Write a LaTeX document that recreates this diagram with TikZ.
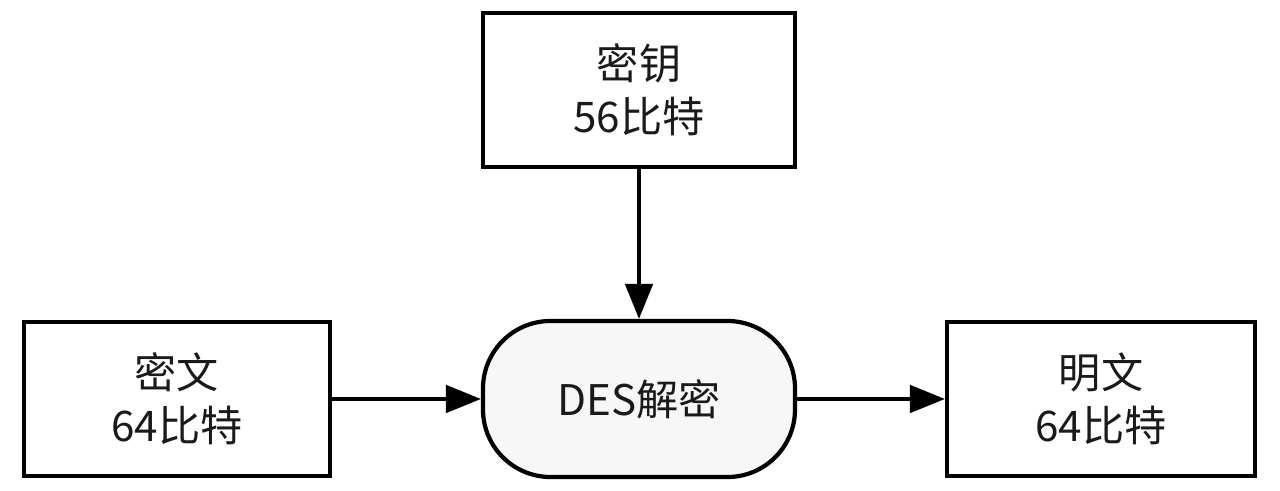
\documentclass[tikz,border=0pt]{standalone}
\usepackage{fontspec}
\newfontfamily\cjk{Noto Sans CJK SC}
\usetikzlibrary{arrows.meta}
\definecolor{textgray}{HTML}{1A1A1A}
\definecolor{procfill}{HTML}{F7F7F7}

\begin{document}
\begin{tikzpicture}[
    databox/.style={draw, line width=2.4pt, minimum width=6.15cm, minimum height=3.08cm,
        align=center, font=\cjk\fontsize{24}{30}\selectfont, text=textgray},
    procbox/.style={databox, fill=procfill, rounded corners=1.35cm},
    flow/.style={line width=1.9pt, -{Triangle[length=0.7cm, width=0.55cm]}}
    ]
    \useasboundingbox (0,0) rectangle (25.6,9.82);
    \def\rowy{1.84}

    \node[databox, minimum width=6.24cm] (key) at (12.78,8.02) {密钥\\56比特}; % key
    \node[databox, minimum width=6.12cm] (cipher) at (3.54,\rowy) {密文\\64比特}; % ciphertext
    \node[procbox, minimum width=6.24cm, minimum height=3.12cm] (des) at (12.78,\rowy) {DES解密}; % decryption
    \node[databox, minimum width=6.16cm] (plain) at (22.02,\rowy) {明文\\64比特}; % plaintext

    \draw[flow] (key) -- (des);
    \draw[flow] (cipher) -- (des);
    \draw[flow] (des) -- (plain);
\end{tikzpicture}
\end{document}
